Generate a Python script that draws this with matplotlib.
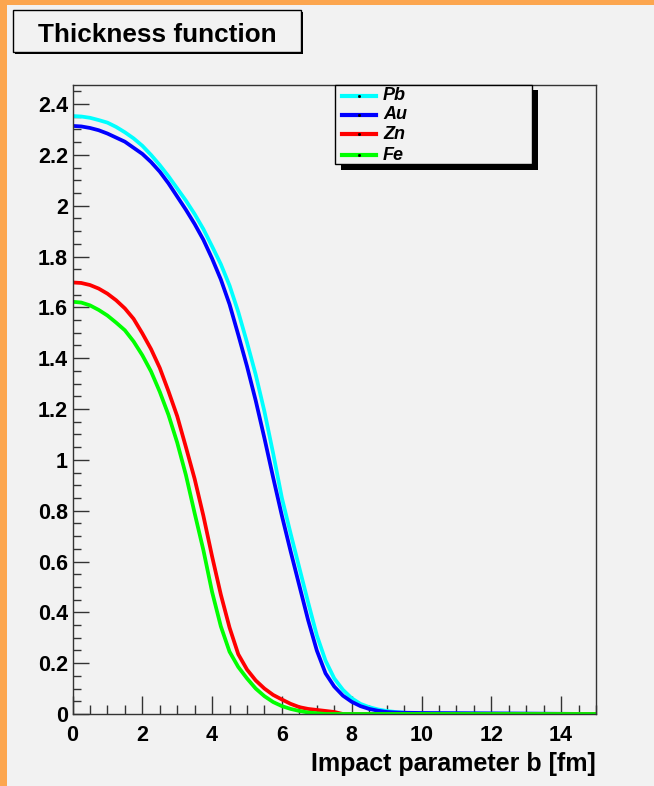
import matplotlib
matplotlib.use("Agg")
import matplotlib.pyplot as plt
from matplotlib.patches import Rectangle
from matplotlib.lines import Line2D
from matplotlib.ticker import MultipleLocator, FormatStrFormatter

# impact parameter b [fm]
b = [0, 0.25, 0.5, 0.75, 1, 1.25, 1.5, 1.75, 2, 2.25, 2.5, 2.75, 3, 3.25, 3.5, 3.75,
     4, 4.25, 4.5, 4.75, 5, 5.25, 5.5, 5.75, 6, 6.25, 6.5, 6.75, 7, 7.25, 7.5, 7.75,
     8, 8.25, 8.5, 8.75, 9, 9.25, 9.5, 9.75, 10, 15]

# thickness function
Pb = [2.353, 2.351, 2.346, 2.337, 2.327, 2.310, 2.289, 2.265, 2.236, 2.200, 2.160, 2.116,
      2.068, 2.020, 1.967, 1.908, 1.840, 1.770, 1.686, 1.582, 1.462, 1.335, 1.190, 1.025,
      0.850, 0.710, 0.575, 0.440, 0.310, 0.210, 0.140, 0.095, 0.062, 0.040, 0.027, 0.018,
      0.012, 0.008, 0.005, 0.003, 0.002, 0.0]
Au = [2.314, 2.312, 2.306, 2.297, 2.284, 2.268, 2.252, 2.228, 2.204, 2.172, 2.134, 2.088,
      2.036, 1.984, 1.928, 1.866, 1.792, 1.710, 1.612, 1.492, 1.368, 1.233, 1.085, 0.930,
      0.780, 0.640, 0.505, 0.370, 0.250, 0.160, 0.108, 0.072, 0.048, 0.031, 0.020, 0.013,
      0.008, 0.006, 0.005, 0.0045, 0.004, 0.0]
Zn = [1.698, 1.696, 1.688, 1.674, 1.654, 1.628, 1.596, 1.555, 1.498, 1.436, 1.362, 1.270,
      1.172, 1.050, 0.925, 0.780, 0.620, 0.470, 0.340, 0.235, 0.175, 0.132, 0.100, 0.075,
      0.057, 0.040, 0.027, 0.020, 0.016, 0.012, 0.008, 0.0, 0.0, 0.0, 0.0, 0.0,
      0.0, 0.0, 0.0, 0.0, 0.0, 0.0]
Fe = [1.622, 1.619, 1.608, 1.590, 1.568, 1.540, 1.510, 1.466, 1.412, 1.348, 1.268, 1.177,
      1.068, 0.940, 0.790, 0.645, 0.480, 0.345, 0.245, 0.185, 0.140, 0.100, 0.070, 0.047,
      0.031, 0.020, 0.012, 0.006, 0.003, 0.0, 0.0, 0.0, 0.0, 0.0, 0.0, 0.0,
      0.0, 0.0, 0.0, 0.0, 0.0, 0.0]

names = ["Pb", "Au", "Zn", "Fe"]
series = [Pb, Au, Zn, Fe]
colors = ["#00ffff", "#0000ff", "#ff0000", "#00ff00"]

W, H = 654, 786
bg = "#f2f2f2"
plt.rcParams["font.family"] = ["Liberation Sans", "DejaVu Sans"]
plt.rcParams["font.weight"] = "bold"

fig = plt.figure(figsize=(W / 100, H / 100), dpi=100, facecolor=bg)


def fx(x):
    return x / W


def fy(y):
    return 1 - y / H


# axes frame in pixels: x 72.5..596, y 85..714
ax = fig.add_axes([fx(72.5), fy(714), fx(596) - fx(72.5), fy(85) - fy(714)])
ax.set_facecolor(bg)

for name, vals, c in zip(names, series, colors):
    ax.plot(b, vals, color=c, lw=2.7, label=name, solid_joinstyle="round")

ax.set_xlim(0, 15)
ax.set_ylim(0, 2.475)
ax.xaxis.set_major_locator(MultipleLocator(2))
ax.xaxis.set_minor_locator(MultipleLocator(0.5))
ax.yaxis.set_major_locator(MultipleLocator(0.2))
ax.yaxis.set_minor_locator(MultipleLocator(0.05))
ax.yaxis.set_major_formatter(FormatStrFormatter("%g"))
ax.xaxis.set_major_formatter(FormatStrFormatter("%g"))

for s in ax.spines.values():
    s.set_color("#333333")
    s.set_linewidth(1)

ax.tick_params(which="both", direction="in", top=False, right=False, color="#333333", width=1)
ax.tick_params(axis="x", which="major", length=13, pad=8, labelsize=15.5)
ax.tick_params(axis="x", which="minor", length=6.5)
ax.tick_params(axis="y", which="major", length=11.5, pad=3.2, labelsize=15.5)
ax.tick_params(axis="y", which="minor", length=5.8)

ax.set_xlabel("Impact parameter b [fm]", fontsize=18, fontweight="bold", loc="right")
ax.xaxis.set_label_coords(1.0, -0.06)

# orange border on top and left
orange = "#fca64f"
fig.add_artist(Rectangle((0, 0), fx(7), 1, transform=fig.transFigure, color=orange, lw=0))
fig.add_artist(Rectangle((0, fy(5)), 1, 5 / H, transform=fig.transFigure, color=orange, lw=0))


def box(x0, y0, x1, y1, shadow):
    fig.add_artist(Rectangle((fx(x0 + shadow), fy(y1 + shadow)), fx(x1) - fx(x0), fy(y0) - fy(y1),
                             transform=fig.transFigure, facecolor="black", lw=0))
    fig.add_artist(Rectangle((fx(x0), fy(y1)), fx(x1) - fx(x0), fy(y0) - fy(y1),
                             transform=fig.transFigure, facecolor=bg, edgecolor="black", lw=1))


# title box
box(13, 10, 301, 52, 2)
fig.text(fx(157), fy(35), "Thickness function", ha="center", va="center", fontsize=18.8, fontweight="bold")

# legend box
box(335, 85, 532, 164, 5.5)
rows = [95.7, 114.5, 134.3, 155]
for y, name, c in zip(rows, names, colors):
    fig.add_artist(Line2D([fx(342), fx(376)], [fy(y), fy(y)], transform=fig.transFigure, color=c, lw=3))
    fig.add_artist(Line2D([fx(359)], [fy(y)], transform=fig.transFigure, marker="s", ms=1,
                          color="black", lw=0))
    fig.text(fx(383), fy(y), name, ha="left", va="center", fontsize=13, fontweight="bold", style="italic")

fig.savefig("out.png", dpi=100, facecolor=bg)
